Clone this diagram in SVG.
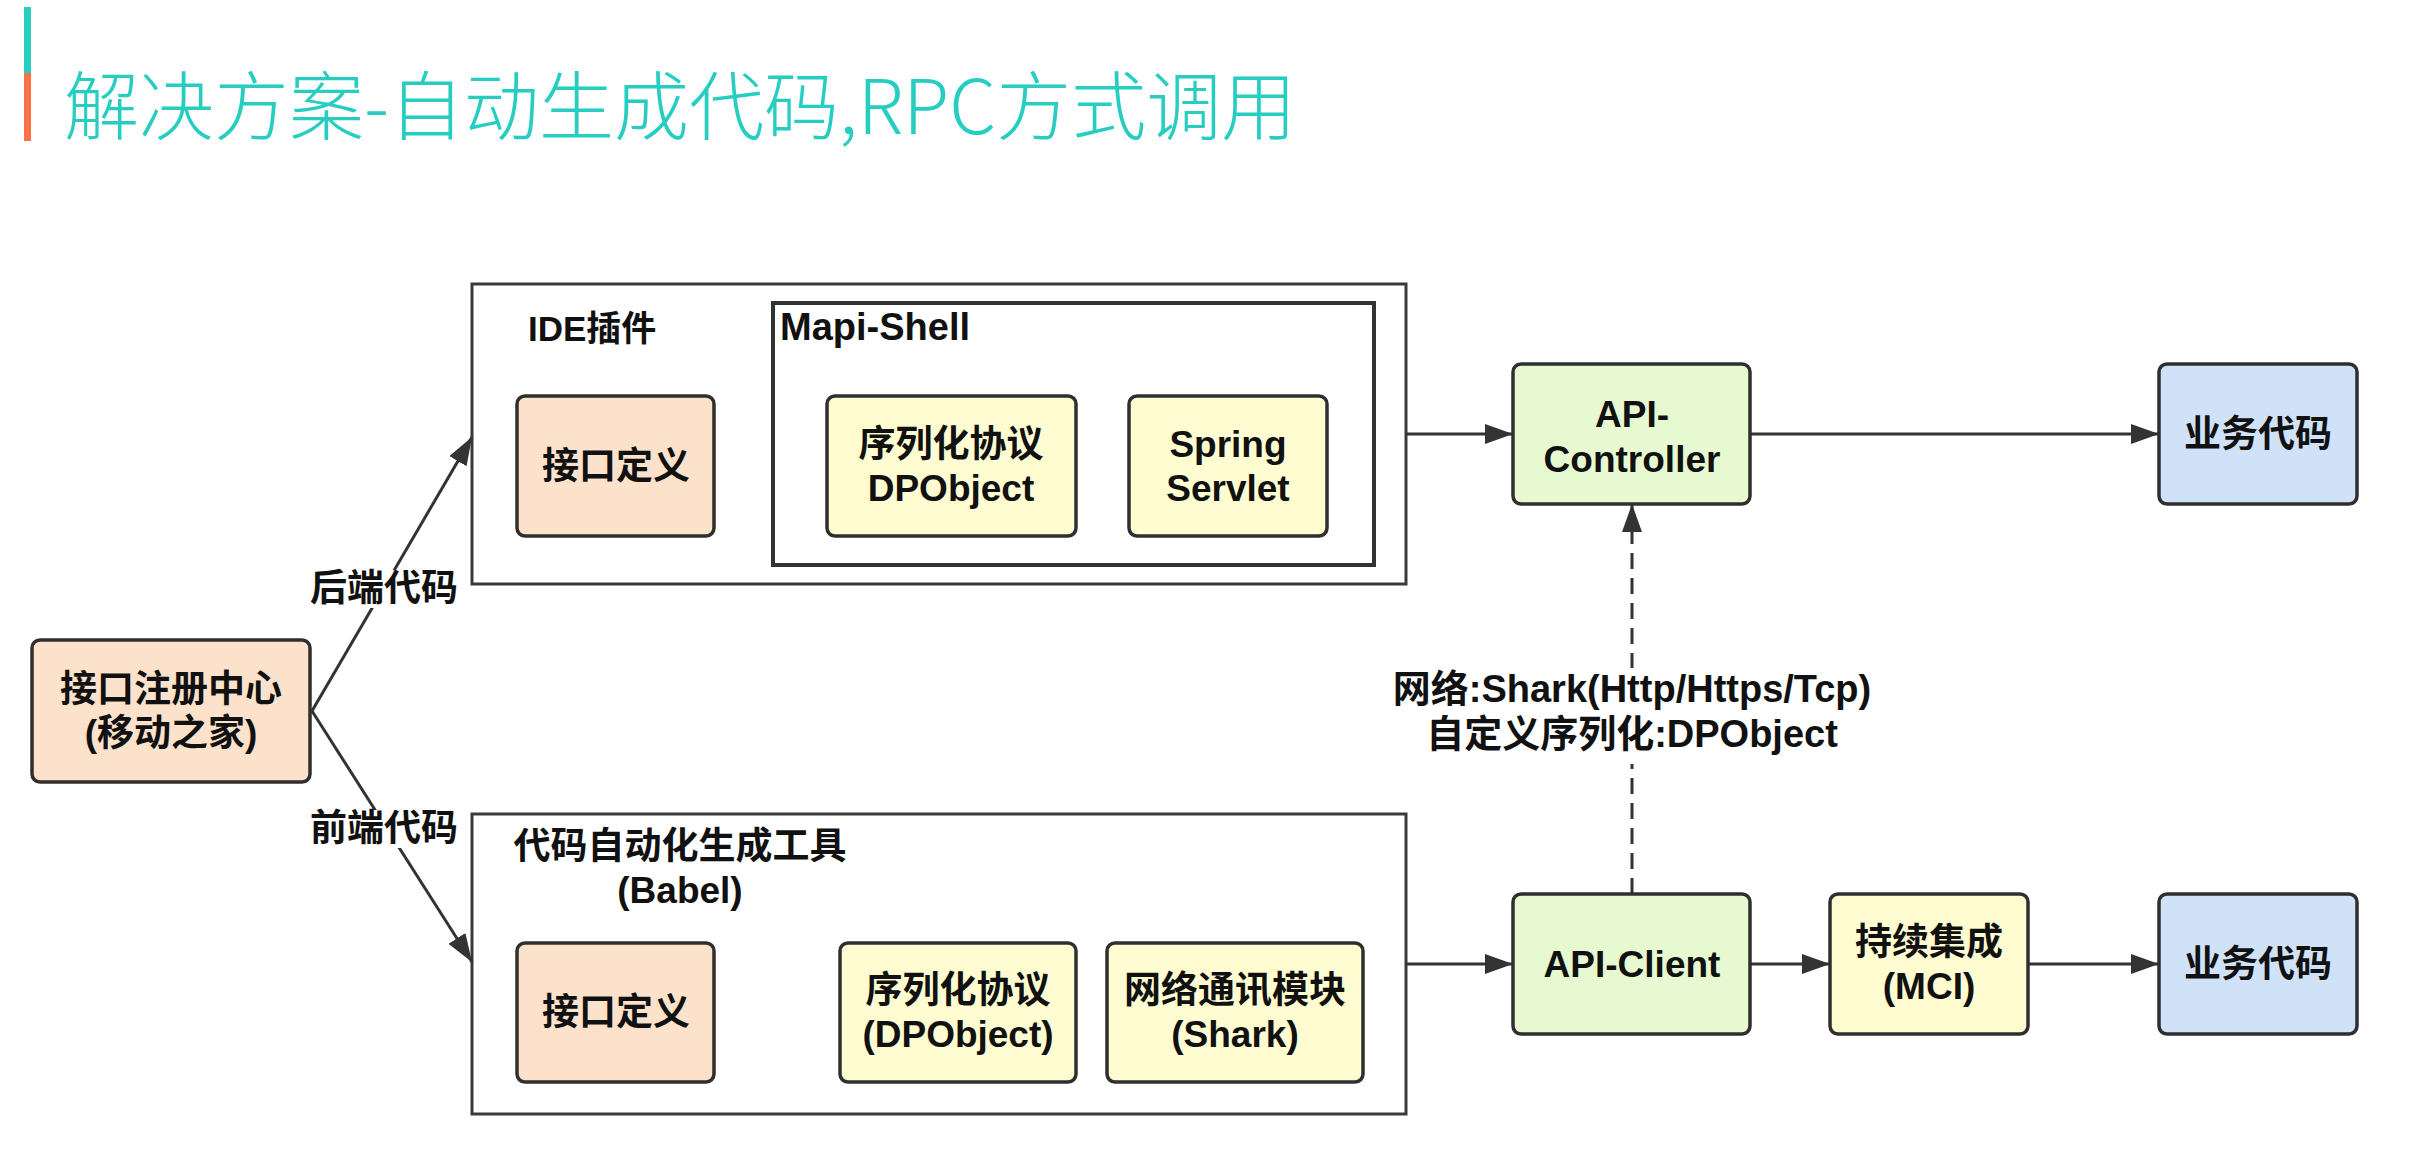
<svg xmlns="http://www.w3.org/2000/svg" width="2424" height="1158" viewBox="0 0 2424 1158">
<defs>
<style>
.bg{fill:#ffffff}
.title{font-family:"Noto Sans CJK SC","Liberation Sans",sans-serif;font-size:75px;font-weight:300;fill:#27cdc1}
.t{font-family:"Liberation Sans","Noto Sans CJK SC",sans-serif;font-size:37px;font-weight:bold;fill:#111111;text-anchor:middle}
.tl{font-family:"Liberation Sans","Noto Sans CJK SC",sans-serif;font-size:37px;font-weight:bold;fill:#111111}
.lbl{font-size:38px}
.box{stroke:#2f2f2f;stroke-width:3.5}
.peach{fill:#fde2cb}
.yellow{fill:#fefcd0}
.green{fill:#e6f9d0}
.blue{fill:#cfe2f8}
.frame{fill:#ffffff;stroke:#3a3a3a;stroke-width:3}
.frame2{fill:none;stroke:#333333;stroke-width:4}
.edge{fill:none;stroke:#333333;stroke-width:3}
.dash{stroke-dasharray:16 9}
.lblbg{fill:#ffffff}
</style>
<marker id="arr" markerUnits="userSpaceOnUse" markerWidth="28" markerHeight="20" refX="28" refY="10" orient="auto">
<path d="M0,0 L28,10 L0,20 z" fill="#333333"/>
</marker>
</defs>
<rect class="bg" x="0" y="0" width="2424" height="1158"/>

<g id="title">
<rect x="24" y="7" width="7" height="66" fill="#27cdc1"/>
<rect x="24" y="73" width="7" height="68" fill="#fd7149"/>
<text class="title" x="64" y="134">解决方案-自动生成代码,RPC方式调用</text>
</g>

<g id="ide-plugin">
<rect class="frame" x="472" y="284" width="934" height="300"/>
<text class="tl" x="528" y="341" style="font-size:35px">IDE插件</text>
</g>
<g id="mapi-shell">
<rect class="frame2" x="773" y="303" width="601" height="262"/>
<text class="tl" x="780" y="340" style="font-size:38px">Mapi-Shell</text>
</g>
<g id="codegen-tool">
<rect class="frame" x="472" y="814" width="934" height="300"/>
<text class="t" x="680" y="859">代码自动化生成工具</text>
<text class="t" x="680" y="903">(Babel)</text>
</g>

<g id="connectors">
<path class="edge" d="M312,711 L472,437" marker-end="url(#arr)"/>
<path class="edge" d="M312,711 L472,962" marker-end="url(#arr)"/>
<path class="edge" d="M1406,434 L1513,434" marker-end="url(#arr)"/>
<path class="edge" d="M1750,434 L2159,434" marker-end="url(#arr)"/>
<path class="edge" d="M1406,964 L1513,964" marker-end="url(#arr)"/>
<path class="edge" d="M1750,964 L1830,964" marker-end="url(#arr)"/>
<path class="edge" d="M2028,964 L2159,964" marker-end="url(#arr)"/>
<path class="edge dash" d="M1632,894 L1632,504" marker-end="url(#arr)"/>
<rect class="lblbg" x="310" y="570" width="148" height="38"/>
<text class="t" x="384" y="601">后端代码</text>
<rect class="lblbg" x="310" y="810" width="148" height="38"/>
<text class="t" x="384" y="841">前端代码</text>
<rect class="lblbg" x="1375" y="668" width="514" height="96"/>
<text class="t lbl" x="1632" y="702">网络:Shark(Http/Https/Tcp)</text>
<text class="t lbl" x="1632" y="747">自定义序列化:DPObject</text>
</g>

<g id="registry">
<rect class="box peach" x="32" y="640" width="278" height="142" rx="8"/>
<text class="t" x="171" y="702">接口注册中心</text>
<text class="t" x="171" y="746">(移动之家)</text>
</g>

<g id="ide-interface-def">
<rect class="box peach" x="517" y="396" width="197" height="140" rx="8"/>
<text class="t" x="616" y="479">接口定义</text>
</g>
<g id="ide-serialization">
<rect class="box yellow" x="827" y="396" width="249" height="140" rx="8"/>
<text class="t" x="951" y="457">序列化协议</text>
<text class="t" x="951" y="501">DPObject</text>
</g>
<g id="spring-servlet">
<rect class="box yellow" x="1129" y="396" width="198" height="140" rx="8"/>
<text class="t" x="1228" y="457">Spring</text>
<text class="t" x="1228" y="501">Servlet</text>
</g>

<g id="gen-interface-def">
<rect class="box peach" x="517" y="943" width="197" height="139" rx="8"/>
<text class="t" x="616" y="1025">接口定义</text>
</g>
<g id="gen-serialization">
<rect class="box yellow" x="840" y="943" width="236" height="139" rx="8"/>
<text class="t" x="958" y="1003">序列化协议</text>
<text class="t" x="958" y="1047">(DPObject)</text>
</g>
<g id="gen-network">
<rect class="box yellow" x="1107" y="943" width="256" height="139" rx="8"/>
<text class="t" x="1235" y="1003">网络通讯模块</text>
<text class="t" x="1235" y="1047">(Shark)</text>
</g>

<g id="api-controller">
<rect class="box green" x="1513" y="364" width="237" height="140" rx="8"/>
<text class="t" x="1632" y="427">API-</text>
<text class="t" x="1632" y="472">Controller</text>
</g>
<g id="biz-code-top">
<rect class="box blue" x="2159" y="364" width="198" height="140" rx="8"/>
<text class="t" x="2258" y="447">业务代码</text>
</g>
<g id="api-client">
<rect class="box green" x="1513" y="894" width="237" height="140" rx="8"/>
<text class="t" x="1632" y="977">API-Client</text>
</g>
<g id="mci">
<rect class="box yellow" x="1830" y="894" width="198" height="140" rx="8"/>
<text class="t" x="1929" y="955">持续集成</text>
<text class="t" x="1929" y="999">(MCI)</text>
</g>
<g id="biz-code-bottom">
<rect class="box blue" x="2159" y="894" width="198" height="140" rx="8"/>
<text class="t" x="2258" y="977">业务代码</text>
</g>
</svg>
